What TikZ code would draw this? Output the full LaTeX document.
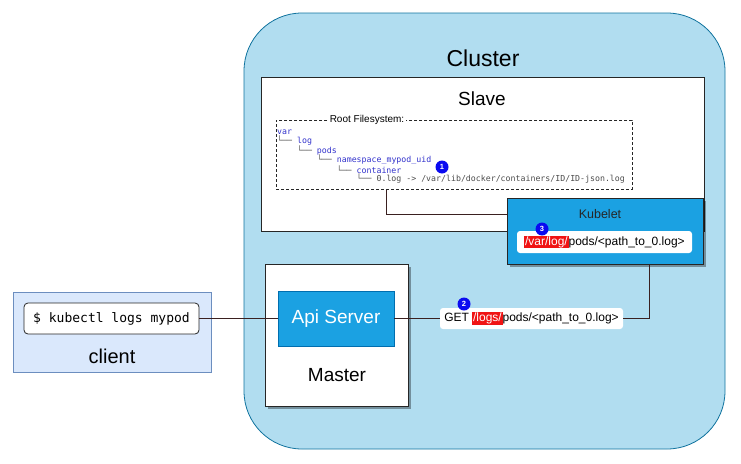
\documentclass[tikz,border=0pt]{standalone}
\usepackage{fontspec}
\setmainfont{Liberation Sans}
\setmonofont{DejaVu Sans Mono}
\usetikzlibrary{shadows}
\definecolor{clfill}{HTML}{B1DDF0}
\definecolor{cldraw}{HTML}{10739E}
\definecolor{clientfill}{HTML}{DAE8FC}
\definecolor{clientdraw}{HTML}{6C8EBF}
\definecolor{kblue}{HTML}{1BA1E2}
\definecolor{kbdraw}{HTML}{006EAF}
\definecolor{badgeblue}{HTML}{0A0AF0}
\definecolor{hred}{HTML}{F01414}
\definecolor{treeblue}{HTML}{3333CC}
\definecolor{treegray}{HTML}{555555}
\definecolor{wire}{HTML}{3A2020}
\newcommand{\redhl}[1]{{\setlength{\fboxsep}{0.8pt}\colorbox{hred}{\textcolor{white}{#1}}}}
\tikzset{
  sz/.style={font=\fontsize{#1}{#1}\selectfont},
  plainbox/.style={draw=black!85, fill=white, line width=0.8pt, inner sep=0},
  shad/.style={drop shadow={shadow xshift=2.5pt, shadow yshift=-2.5pt, fill=black, opacity=0.35}},
  treeline/.style={anchor=west, inner sep=0, font=\fontsize{8.25}{10}\ttfamily, text=treegray},
  badge/.style={circle, fill=badgeblue, text=white, inner sep=0, minimum size=13pt, font=\fontsize{7.5}{8}\bfseries},
  pill/.style={fill=white, rounded corners=3pt, inner sep=0, font=\fontsize{12}{14}\selectfont},
  wireline/.style={draw=wire, line width=0.8pt},
  lbl/.style={inner sep=0}
}
\begin{document}
\begin{tikzpicture}[x=1pt,y=-1pt]
\useasboundingbox (0,0) rectangle (741,463);
% cluster
\node[draw=cldraw, fill=clfill, rounded corners=58pt, minimum width=481, minimum height=436, line width=0.8pt, inner sep=0] (cluster) at (484.5,231) {};
\node[lbl, sz=23] (clusterlbl) at (483,58) {Cluster};
% slave
\node[plainbox, minimum width=443, minimum height=154] (slave) at (482.5,154) {};
\node[lbl, sz=19] (slavelbl) at (482,99) {Slave};
% root filesystem
\node[draw=black!85, dash pattern=on 3pt off 2pt, line width=0.8pt, minimum width=356, minimum height=69, inner sep=0] (rootfs) at (454,154.5) {};
\node[fill=white, inner sep=1.5pt, sz=10] (rflabel) at (367,120) {Root Filesystem:};
\node[treeline] (t0) at (277,132) {\textcolor{treeblue}{var}};
\node[treeline] (t1) at (277,141) {└── \textcolor{treeblue}{log}};
\node[treeline] (t2) at (296.9,150.5) {└── \textcolor{treeblue}{pods}};
\node[treeline] (t3) at (316.8,160) {└── \textcolor{treeblue}{namespace\_mypod\_uid}};
\node[treeline] (t4) at (336.6,169.5) {└── \textcolor{treeblue}{container}};
\node[treeline] (t5) at (356.5,179) {└── \textcolor{black!70}{0.log -> /var/lib/docker/containers/ID/ID-json.log}};
% kubelet
\coordinate (logpt) at (386,190);
\coordinate (kbw) at (507,214);
\draw[wireline] (logpt) |- (kbw);
\node[draw=black!85, fill=kblue, line width=0.8pt, minimum width=196, minimum height=66, inner sep=0, shad] (kubelet) at (605,231) {};
\node[lbl, sz=12.5, text=black!85] (kubeletlbl) at (600,214) {Kubelet};
\node[pill, minimum width=175, minimum height=22] (kbpath) at (604.5,242) {\redhl{/var/log/}pods/<path\_to\_0.log>};
% master
\node[plainbox, minimum width=143, minimum height=142, shad] (master) at (336.5,335) {};
\node[lbl, sz=19] (masterlbl) at (337,375) {Master};
\node[draw=kbdraw, fill=kblue, line width=0.8pt, minimum width=116, minimum height=55, inner sep=0, text=white, sz=19] (api) at (336,318.5) {Api Server};
% client
\node[draw=clientdraw, fill=clientfill, line width=0.8pt, minimum width=198, minimum height=80, inner sep=0] (client) at (112,332) {};
\node[draw=black!85, fill=white, rounded corners=4pt, line width=0.8pt, minimum width=175, minimum height=31, inner sep=0, font=\fontsize{13}{15}\ttfamily] (cmd) at (111.5,318.5) {\$ kubectl logs mypod};
\node[lbl, sz=20] (clientlbl) at (112,356) {client};
% GET label
\node[pill, minimum width=183, minimum height=21] (get) at (531.5,318.5) {GET \redhl{/logs/}pods/<path\_to\_0.log>};
% connectors
\coordinate (kbin) at (649,264);
\draw[wireline] (cmd.east) -- (api.west);
\draw[wireline] (api.east) -- (get.west);
\draw[wireline] (get.east) -| (kbin);
% badges
\node[badge] (b1) at (442,167) {1};
\node[badge] (b2) at (464,304) {2};
\node[badge] (b3) at (542,229) {3};
\end{tikzpicture}
\end{document}
